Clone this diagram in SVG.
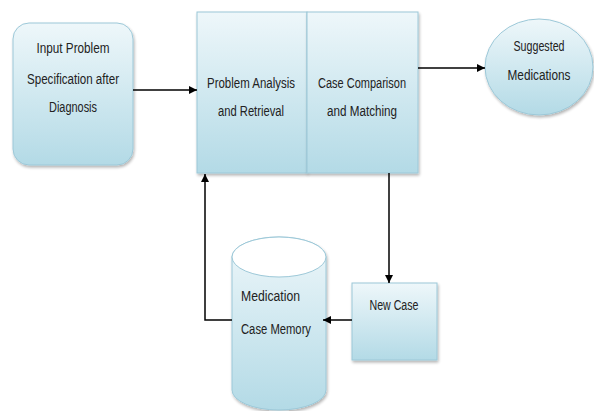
<svg xmlns="http://www.w3.org/2000/svg" width="594" height="411" viewBox="0 0 594 411">
<defs>
<linearGradient id="g" x1="0" y1="0" x2="0" y2="1">
<stop offset="0" stop-color="#eef7fa"/>
<stop offset="1" stop-color="#b3dae6"/>
</linearGradient>
<filter id="sh" x="-10%" y="-10%" width="130%" height="130%">
<feGaussianBlur in="SourceAlpha" stdDeviation="1.5"/>
<feOffset dx="1" dy="2"/>
<feComponentTransfer><feFuncA type="linear" slope="0.3"/></feComponentTransfer>
<feMerge><feMergeNode/><feMergeNode in="SourceGraphic"/></feMerge>
</filter>
<marker id="ah" viewBox="0 0 10 10" refX="10" refY="5" markerWidth="8" markerHeight="8" markerUnits="userSpaceOnUse" orient="auto">
<path d="M0,0 L10,5 L0,10 z" fill="#000"/>
</marker>
</defs>
<style>
.n{fill:url(#g);stroke:#9cc8d8;stroke-width:1;filter:url(#sh)}
.t{font-family:"Liberation Sans",Arial,sans-serif;font-size:15.5px;fill:#222;text-anchor:middle}
.c{fill:none;stroke:#000;stroke-width:1.5;marker-end:url(#ah)}
</style>
<rect width="594" height="411" fill="#fff"/>
<g id="input">
<rect class="n" x="13" y="23" width="120" height="142" rx="16"/>
<text class="t" x="73" y="53" textLength="73" lengthAdjust="spacingAndGlyphs">Input Problem</text>
<text class="t" x="73" y="84" textLength="92" lengthAdjust="spacingAndGlyphs">Specification after</text>
<text class="t" x="73" y="112" textLength="48" lengthAdjust="spacingAndGlyphs">Diagnosis</text>
</g>
<g id="analysis">
<rect class="n" x="197" y="12" width="110" height="161"/>
<text class="t" x="251" y="88" textLength="88" lengthAdjust="spacingAndGlyphs">Problem Analysis</text>
<text class="t" x="251" y="116" textLength="66" lengthAdjust="spacingAndGlyphs">and Retrieval</text>
</g>
<g id="comparison">
<rect class="n" x="307" y="12" width="111" height="161"/>
<text class="t" x="362" y="88" textLength="88" lengthAdjust="spacingAndGlyphs">Case Comparison</text>
<text class="t" x="362" y="116" textLength="70" lengthAdjust="spacingAndGlyphs">and Matching</text>
</g>
<g id="suggested">
<ellipse class="n" cx="539" cy="67" rx="54" ry="48"/>
<text class="t" x="539" y="51" textLength="51" lengthAdjust="spacingAndGlyphs">Suggested</text>
<text class="t" x="539" y="80" textLength="63" lengthAdjust="spacingAndGlyphs">Medications</text>
</g>
<g id="newcase">
<rect class="n" x="352" y="283" width="85" height="77"/>
<text class="t" x="394" y="310" textLength="49" lengthAdjust="spacingAndGlyphs">New Case</text>
</g>
<g id="memory">
<path class="n" d="M232,257 A47,20 0 0 1 326,257 L326,390 A47,20 0 0 1 232,390 Z"/>
<ellipse cx="279" cy="257" rx="47" ry="20" fill="#fff" stroke="#9cc8d8" stroke-width="1"/>
<text class="t" x="241" y="301" style="text-anchor:start" textLength="59" lengthAdjust="spacingAndGlyphs">Medication</text>
<text class="t" x="241" y="334" style="text-anchor:start" textLength="70" lengthAdjust="spacingAndGlyphs">Case Memory</text>
</g>
<g id="connectors">
<line class="c" x1="133" y1="90" x2="197" y2="90"/>
<line class="c" x1="418" y1="68" x2="485" y2="68"/>
<line class="c" x1="389" y1="173" x2="389" y2="283"/>
<line class="c" x1="352" y1="320" x2="323" y2="320"/>
<polyline class="c" points="232,320 205,320 205,174"/>
</g>
</svg>
